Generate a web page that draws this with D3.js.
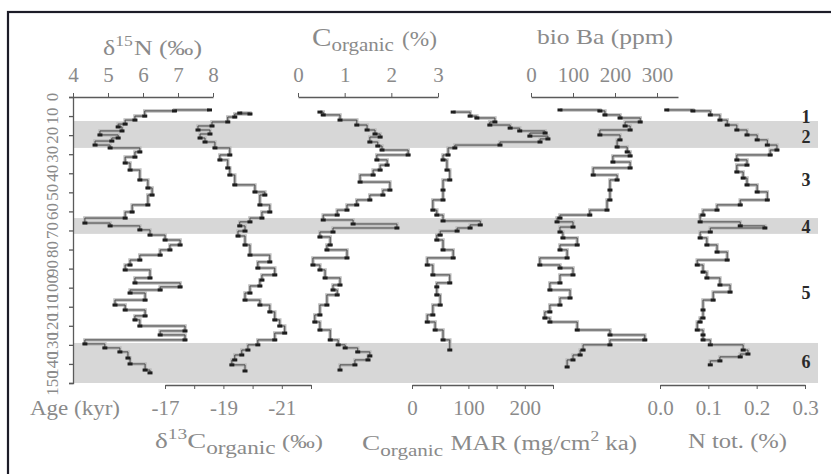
<!DOCTYPE html>
<html>
<head>
<meta charset="utf-8">
<script src="https://cdn.jsdelivr.net/npm/d3@7"></script>
<style>
  body { margin: 0; background: #fff; }
  svg text { font-family: "Liberation Serif", "Times New Roman", serif; }
</style>
</head>
<body>
<svg id="chart" width="831" height="474"></svg>
<script>
// climate stages (kyr)
const stageBands = [[12.6, 26.7], [63.5, 71.8], [129, 150]];
const stageNames = ["1", "2", "3", "4", "5", "6"];
const stageNameAge = [10.5, 21, 43.5, 68.2, 102.8, 139];
const ageTicks = d3.range(0, 151, 10);

// d15N (permil)
const d15nAge = [6.8, 7.3, 10.0, 12.1, 14.2, 15.7, 17.8, 19.9, 21.5, 23.1, 25.2, 26.7, 28.8, 31.5, 34.6, 38.3, 43.5, 47.7, 51.4, 56.6, 60.3, 63.5, 66.1, 67.6, 69.7, 72.4, 75.0, 77.6, 80.2, 82.9, 85.5, 88.1, 90.7, 94.9, 97.5, 99.6, 101.2, 102.8, 106.5, 109.1, 111.7, 114.8, 116.9, 120.1, 122.7, 124.8, 127.4, 129.5, 131.6, 133.7, 136.9, 140.0, 143.2, 144.7];
const d15nVal = [7.9, 6.9, 6.05, 5.77, 5.49, 5.29, 5.4, 4.77, 5.29, 5.11, 4.63, 5.06, 5.91, 5.77, 5.49, 5.63, 5.91, 6.14, 6.26, 6.14, 5.69, 5.49, 4.34, 5.06, 5.91, 6.2, 6.63, 7.06, 6.77, 6.49, 5.91, 5.63, 5.49, 6.2, 5.77, 7.06, 6.49, 5.63, 6.06, 5.2, 5.49, 6.06, 5.77, 5.91, 7.2, 6.49, 7.2, 4.34, 4.91, 5.34, 5.57, 5.63, 6.06, 6.2];

// d13C organic (permil)
const d13cAge = [8.4, 8.9, 10.5, 13.1, 15.2, 17.3, 19.4, 21.5, 23.6, 26.7, 30.4, 33.0, 37.2, 40.9, 46.1, 49.8, 51.4, 56.6, 60.3, 63.5, 65.5, 67.6, 70.3, 72.9, 77.6, 82.9, 86.5, 89.7, 93.3, 96.0, 99.1, 102.8, 106.5, 109.1, 112.7, 116.9, 120.1, 123.8, 127.4, 130.0, 132.7, 135.3, 137.9, 140.5, 143.7];
const d13cVal = [-19.56, -19.91, -19.39, -19.15, -18.61, -18.13, -18.54, -18.2, -18.37, -18.71, -19.22, -18.88, -19.15, -19.22, -19.39, -20.08, -20.42, -20.25, -20.59, -20.32, -19.91, -19.56, -19.74, -19.5, -19.74, -19.91, -20.59, -20.18, -20.76, -20.32, -20.25, -19.91, -19.74, -20.25, -20.59, -20.76, -20.93, -21.1, -20.76, -20.18, -19.84, -19.63, -19.39, -19.29, -19.74];

// C organic (%)
const corgAge = [7.9, 9.4, 12.1, 14.7, 17.3, 19.4, 21.0, 23.6, 25.7, 27.8, 30.4, 33.0, 35.7, 38.3, 40.9, 44.6, 48.8, 51.4, 54.0, 56.6, 59.3, 61.9, 64.5, 66.6, 68.7, 70.8, 73.4, 77.6, 80.2, 84.4, 88.1, 90.7, 94.9, 98.6, 101.2, 103.8, 109.1, 114.3, 118.0, 122.2, 127.4, 130.0, 131.6, 133.7, 135.8, 137.9, 140.5, 143.2];
const corgVal = [0.47, 0.54, 0.9, 1.26, 1.48, 1.65, 1.76, 1.54, 1.71, 1.8, 2.36, 1.69, 1.91, 1.76, 1.61, 1.33, 1.97, 1.82, 1.54, 1.26, 1.05, 0.84, 0.54, 1.18, 2.12, 0.75, 0.47, 0.69, 0.62, 1.05, 0.32, 0.47, 0.58, 0.9, 0.75, 0.84, 0.62, 0.47, 0.36, 0.47, 0.69, 0.86, 1.01, 1.28, 1.54, 1.5, 1.22, 0.9];

// C organic MAR (mg/cm2 ka)
const marAge = [7.9, 10.0, 11.0, 13.1, 14.7, 16.3, 17.8, 18.9, 20.5, 22.0, 23.6, 25.2, 26.7, 30.4, 33.0, 38.3, 43.5, 48.8, 54.0, 59.3, 61.9, 65.0, 67.1, 68.7, 70.3, 72.4, 75.0, 80.2, 84.4, 88.1, 93.3, 97.5, 99.6, 103.8, 109.1, 114.3, 118.0, 122.2, 127.4, 132.7];
const marVal = [73, 103, 115, 147, 138, 174, 191, 236, 209, 241, 227, 156, 76, 64, 55, 62, 67, 55, 55, 37, 44, 55, 121, 103, 80, 50, 44, 55, 73, 27, 37, 67, 44, 44, 50, 37, 27, 41, 55, 67];

// bio Ba (ppm)
const baAge = [6.8, 7.3, 9.4, 11.0, 13.1, 15.2, 17.3, 19.9, 22.5, 26.2, 28.8, 30.9, 34.1, 37.2, 40.9, 43.5, 48.8, 54.0, 59.3, 61.9, 63.5, 65.5, 68.2, 70.8, 73.9, 77.6, 80.2, 84.4, 88.1, 89.7, 93.3, 97.5, 101.2, 105.4, 109.1, 112.7, 115.9, 118.0, 122.2, 124.8, 127.4, 130.0, 132.7, 135.3, 137.9, 141.6];
const baVal = [69, 164, 176, 212, 260, 224, 236, 164, 212, 205, 229, 236, 195, 236, 148, 205, 188, 188, 181, 140, 69, 62, 100, 69, 76, 110, 69, 86, 21, 69, 100, 69, 45, 93, 69, 45, 33, 45, 110, 188, 271, 188, 124, 117, 100, 86];

// N total (%)
const ntotAge = [6.8, 7.3, 9.4, 12.1, 14.7, 17.3, 19.9, 22.5, 25.2, 27.8, 30.4, 33.0, 35.7, 39.3, 42.5, 46.1, 49.8, 54.0, 56.6, 59.3, 61.9, 65.5, 67.6, 68.7, 70.8, 73.9, 77.6, 81.3, 85.5, 88.1, 91.8, 94.9, 98.6, 102.3, 106.5, 111.7, 115.9, 118.0, 122.2, 124.8, 127.4, 130.0, 132.7, 134.8, 136.3, 138.4, 140.5];
const ntotVal = [0.014, 0.068, 0.104, 0.124, 0.139, 0.159, 0.18, 0.201, 0.222, 0.242, 0.228, 0.159, 0.18, 0.159, 0.172, 0.18, 0.201, 0.222, 0.166, 0.118, 0.089, 0.083, 0.166, 0.217, 0.104, 0.083, 0.097, 0.118, 0.139, 0.077, 0.089, 0.097, 0.124, 0.145, 0.11, 0.089, 0.089, 0.083, 0.077, 0.089, 0.089, 0.104, 0.172, 0.182, 0.166, 0.124, 0.104];

const svg = d3.select("#chart");
const serif = "Liberation Serif, Times New Roman, serif";
const labelColor = "#8a8a8a";
const lineColor = "#5a5a5a";

const y = d3.scaleLinear().domain([0, 150]).range([97, 383]);

// frame (only top and left edges fall inside the picture)
svg.append("rect").attr("x", 8).attr("y", 12).attr("width", 840).attr("height", 480)
  .attr("fill", "none").attr("stroke", "#1c1c28").attr("stroke-width", 2.2);

// shaded stages
svg.append("g").selectAll("rect")
  .data(stageBands)
  .join("rect")
    .attr("x", 73)
    .attr("width", 745)
    .attr("y", d => y(d[0]))
    .attr("height", d => y(d[1]) - y(d[0]))
    .attr("fill", "#d7d7d7");

svg.append("g").selectAll("text")
  .data(stageNames)
  .join("text")
    .attr("x", 806)
    .attr("y", (d, i) => y(stageNameAge[i]) + 6)
    .attr("text-anchor", "middle")
    .attr("font-family", serif)
    .attr("font-size", 18)
    .attr("font-weight", "bold")
    .attr("fill", "#2a2a2a")
    .text(d => d);

// age axis
const ageAxis = svg.append("g")
  .attr("transform", "translate(73,0)")
  .call(d3.axisLeft(y).tickValues(ageTicks).tickSize(4).tickFormat(""));
ageAxis.selectAll("path, line").attr("stroke", lineColor).attr("stroke-width", 1.3);
svg.append("g").selectAll("text")
  .data(ageTicks)
  .join("text")
    .attr("transform", d => `translate(58,${y(d)}) rotate(-90)`)
    .attr("text-anchor", "middle")
    .attr("font-family", serif)
    .attr("font-size", 17)
    .attr("fill", labelColor)
    .text(d => d);

function styleAxis(g) {
  g.attr("font-family", serif);
  g.select(".domain").attr("stroke", lineColor).attr("stroke-width", 1.5);
  g.selectAll(".tick line").attr("stroke", lineColor);
  g.selectAll(".tick text").attr("fill", labelColor).attr("font-size", 21);
}

// mixed-size text, parts = [text, shift, size, gap]
function richText(x, yb, width, parts) {
  const t = svg.append("text").attr("x", x).attr("y", yb)
    .attr("font-family", serif).attr("fill", labelColor)
    .attr("textLength", width).attr("lengthAdjust", "spacingAndGlyphs");
  let prev = 0;
  parts.forEach(([s, shift, size, gap]) => {
    t.append("tspan").attr("dy", shift - prev).attr("dx", gap || 0)
      .attr("font-size", size).text(s);
    prev = shift;
  });
  return t;
}

const intFmt = d => String(d);
const panels = [
  { age: d15nAge, val: d15nVal, x: d3.scaleLinear().domain([4, 8]).range([73, 213]),
    top: true, ticks: [4, 5, 6, 7, 8], labels: [4, 5, 6, 7, 8], fmt: intFmt },
  { age: d13cAge, val: d13cVal, x: d3.scaleLinear().domain([-17, -22]).range([165, 311]),
    top: false, ticks: [-17, -18, -19, -20, -21, -22], labels: [-17, -19, -21], fmt: intFmt },
  { age: corgAge, val: corgVal, x: d3.scaleLinear().domain([0, 3]).range([298, 438]),
    top: true, ticks: [0, 1, 2, 3], labels: [0, 1, 2, 3], fmt: intFmt },
  { age: marAge, val: marVal, x: d3.scaleLinear().domain([0, 250]).range([412, 553]),
    top: false, ticks: [0, 50, 100, 150, 200, 250], labels: [0, 100, 200], fmt: intFmt },
  { age: baAge, val: baVal, x: d3.scaleLinear().domain([0, 350]).range([531, 678]),
    top: true, ticks: [0, 100, 200, 300], labels: [0, 100, 200, 300], fmt: intFmt },
  { age: ntotAge, val: ntotVal, x: d3.scaleLinear().domain([0, 0.3]).range([660, 805]),
    top: false, ticks: [0, 0.1, 0.2, 0.3], labels: [0, 0.1, 0.2, 0.3], fmt: d3.format(".1f") }
];

panels.forEach(p => {
  const axis = (p.top ? d3.axisTop(p.x) : d3.axisBottom(p.x))
    .tickValues(p.ticks).tickSize(4).tickSizeOuter(0).tickPadding(11)
    .tickFormat(d => p.labels.includes(d) ? p.fmt(d) : "");
  const g = svg.append("g")
    .attr("transform", `translate(0,${p.top ? 97 : 385})`)
    .call(axis);
  styleAxis(g);

  const pts = p.age.map((a, i) => [p.x(p.val[i]), y(a)]);
  const line = d3.line().curve(d3.curveStepAfter);
  svg.append("path").attr("d", line(pts)).attr("fill", "none")
    .attr("stroke", "#bdbdbd").attr("stroke-width", 3.5);
  svg.append("path").attr("d", line(pts)).attr("fill", "none")
    .attr("stroke", "#474747").attr("stroke-width", 1);
  svg.append("g").selectAll("rect")
    .data(pts)
    .join("rect")
      .attr("x", d => d[0] - 2.5)
      .attr("y", d => d[1] - 1.5)
      .attr("width", 5)
      .attr("height", 3)
      .attr("fill", "#1e1e1e");
});

// titles
richText(103, 55, 99, [["δ", 0, 22], ["15", -9, 15], ["N (‰)", 0, 22, 1]]);
richText(312, 46, 125, [["C", 0, 25], ["organic", 5, 18], ["(%)", 0, 20, 7]]);
richText(537, 44, 136, [["bio Ba (ppm)", 0, 21]]);
richText(30, 415, 90, [["Age (kyr)", 0, 21]]);
richText(155, 448, 168, [["δ", 0, 21], ["13", -9, 15], ["C", 0, 22], ["organic", 6, 18], ["(‰)", 0, 19, 5]]);
richText(362, 450, 275, [["C", 0, 22], ["organic", 6, 17], ["MAR (mg/cm", 0, 20, 6], ["2", -9, 14], [" ka)", 0, 20]]);
richText(688, 448, 99, [["N tot. (%)", 0, 21]]);
</script>
</body>
</html>
